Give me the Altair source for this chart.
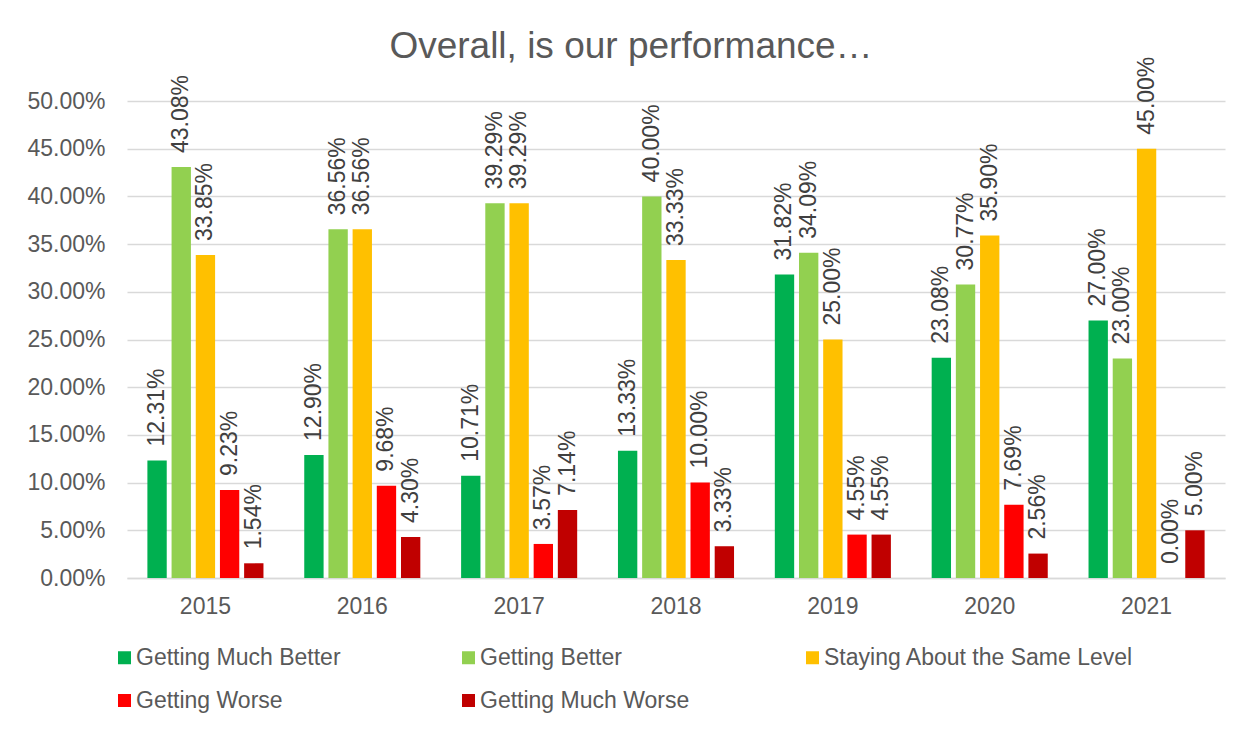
import altair as alt
import pandas as pd

years = ["2015", "2016", "2017", "2018", "2019", "2020", "2021"]
series = ["Getting Much Better", "Getting Better", "Staying About the Same Level",
          "Getting Worse", "Getting Much Worse"]
colors = ["#00B050", "#92D050", "#FFC000", "#FF0000", "#C00000"]

much_better = [0.1231, 0.1290, 0.1071, 0.1333, 0.3182, 0.2308, 0.2700]
better = [0.4308, 0.3656, 0.3929, 0.4000, 0.3409, 0.3077, 0.2300]
same = [0.3385, 0.3656, 0.3929, 0.3333, 0.2500, 0.3590, 0.4500]
worse = [0.0923, 0.0968, 0.0357, 0.1000, 0.0455, 0.0769, 0.0000]
much_worse = [0.0154, 0.0430, 0.0714, 0.0333, 0.0455, 0.0256, 0.0500]

y_ticks = [0.0, 0.05, 0.10, 0.15, 0.20, 0.25, 0.30, 0.35, 0.40, 0.45, 0.50]

rows = []
for name, vals in zip(series, [much_better, better, same, worse, much_worse]):
    for yr, v in zip(years, vals):
        rows.append({"year": yr, "series": name, "value": v})
df = pd.DataFrame(rows)

FONT = "Liberation Sans"
GREY = "#595959"

base = alt.Chart(df).encode(
    x=alt.X("year:N", sort=years,
            scale=alt.Scale(paddingInner=0.26, paddingOuter=0.13),
            axis=alt.Axis(title=None, labelAngle=0, ticks=False, labelFontSize=23,
                          labelColor=GREY, labelFont=FONT, labelPadding=17,
                          domainColor="#d9d9d9", domainWidth=1.5, grid=False)),
    xOffset=alt.XOffset("series:N", sort=series, scale=alt.Scale(paddingInner=0.2)),
    y=alt.Y("value:Q", scale=alt.Scale(domain=[0, 0.5]),
            axis=alt.Axis(title=None, format=".2%", values=y_ticks, ticks=False,
                          domain=False, labelFontSize=23, labelColor=GREY,
                          labelFont=FONT, labelPadding=22, gridColor="#d9d9d9",
                          gridWidth=1.5)),
)

bars = base.mark_bar().encode(
    color=alt.Color("series:N", sort=series,
                    scale=alt.Scale(domain=series, range=colors),
                    legend=alt.Legend(title=None, orient="none", legendX=-14, legendY=545,
                                      columns=3, direction="horizontal",
                                      symbolType="square", symbolSize=169,
                                      symbolStrokeWidth=0, labelFontSize=23,
                                      labelFont=FONT, labelColor=GREY, labelLimit=400,
                                      gridAlign="all", columnPadding=11, rowPadding=19,
                                      labelOffset=0))
)

labels = base.mark_text(angle=270, align="left", baseline="middle", dx=14,
                        fontSize=23, font=FONT, color="#404040").encode(
    text=alt.Text("value:Q", format=".2%")
)

chart = alt.layer(bars, labels).properties(
    width=1098, height=477,
    autosize="none",
    padding={"left": 119, "top": 93, "right": 20, "bottom": 140},
    title=alt.TitleParams("Overall, is our performance…", fontSize=37, font=FONT,
                          color=GREY, fontWeight="normal", anchor="middle", dx=-45,
                          dy=13),
).configure_view(stroke=None)

chart.save("out.html", embed_options={"renderer": "svg", "actions": False})
